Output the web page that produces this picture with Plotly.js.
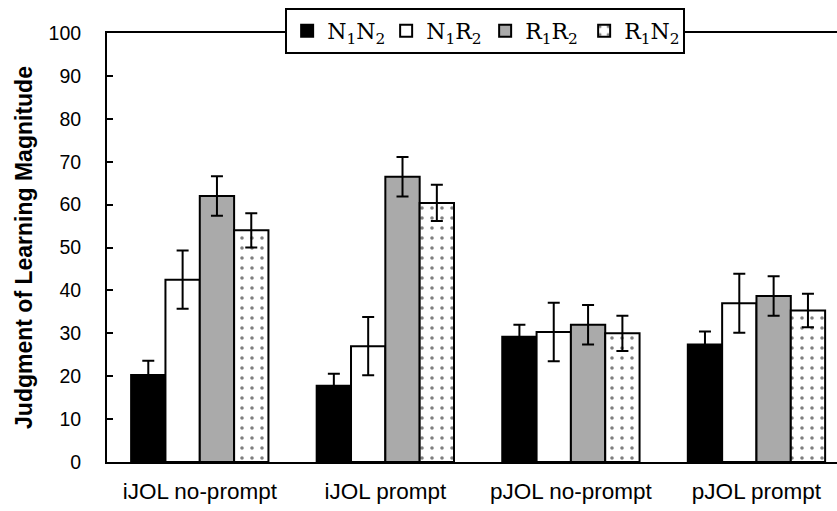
<!DOCTYPE html>
<html>
<head>
<meta charset="utf-8">
<script src="https://cdn.plot.ly/plotly-3.0.1.min.js"></script>
<style>html,body{margin:0;padding:0;background:#fff;}#chart{width:837px;height:511px;}</style>
</head>
<body>
<div id="chart"></div>
<script>
const categories = ["iJOL no-prompt", "iJOL prompt", "pJOL no-prompt", "pJOL prompt"];
const seriesNames = ["N<sub>1</sub>N<sub>2</sub>", "N<sub>1</sub>R<sub>2</sub>", "R<sub>1</sub>R<sub>2</sub>", "R<sub>1</sub>N<sub>2</sub>"];
const N1N2 = [20.3, 17.8, 29.2, 27.4];
const N1R2 = [42.5, 27.0, 30.3, 37.0];
const R1R2 = [62.0, 66.5, 32.0, 38.7];
const R1N2 = [54.0, 60.4, 30.0, 35.3];
const N1N2_err = [3.3, 2.8, 2.8, 3.0];
const N1R2_err = [6.8, 6.8, 6.8, 6.9];
const R1R2_err = [4.6, 4.6, 4.6, 4.6];
const R1N2_err = [4.0, 4.2, 4.1, 3.9];
const yTicks = [0, 10, 20, 30, 40, 50, 60, 70, 80, 90, 100];

const values = [N1N2, N1R2, R1R2, R1N2];
const errs = [N1N2_err, N1R2_err, R1R2_err, R1N2_err];
const fills = ["#000000", "#ffffff", "#aaaaaa", "#ffffff"];

const traces = values.map((v, i) => {
  const marker = {color: fills[i], line: {color: "#000", width: 2}};
  if (i === 3) {
    marker.pattern = {shape: ".", fgcolor: "#000", bgcolor: "#fff", size: 10, solidity: 0.1, fillmode: "overlay"};
  }
  return {
    type: "bar",
    name: seriesNames[i],
    x: categories,
    y: v,
    marker: marker,
    error_y: {type: "data", array: errs[i], visible: true, color: "#000", thickness: 2, width: 6},
    hoverinfo: "none"
  };
});

const layout = {
  width: 837, height: 511,
  margin: {l: 107, r: 0, t: 33, b: 49},
  paper_bgcolor: "#fff", plot_bgcolor: "#fff",
  barmode: "group", bargap: 0.26, bargroupgap: 0,
  showlegend: true,
  legend: {
    orientation: "h", x: 0.518, xanchor: "center", y: 1.005, yanchor: "middle",
    bgcolor: "#fff", bordercolor: "#000", borderwidth: 2,
    font: {family: "DejaVu Serif", size: 22, color: "#000"},
    entrywidth: 54, entrywidthmode: "pixels",
    itemwidth: 30,
    traceorder: "normal"
  },
  xaxis: {
    type: "category", range: [-0.5, 3.434],
    showline: true, linecolor: "#000", linewidth: 2, mirror: true,
    ticks: "", showgrid: false, zeroline: false,
    tickfont: {family: "Liberation Sans, Arial, sans-serif", size: 22.5, color: "#000"},
    ticklabelstandoff: 8
  },
  yaxis: {
    range: [0, 100], tickvals: yTicks, ticktext: yTicks.map(String),
    showline: true, linecolor: "#000", linewidth: 2,
    ticks: "inside", ticklen: 6, tickwidth: 2, tickcolor: "#000",
    showgrid: false, zeroline: false,
    tickfont: {family: "Liberation Sans, Arial, sans-serif", size: 19.5, color: "#000"},
    ticklabelstandoff: 20,
    title: {text: "Judgment of Learning Magnitude", font: {family: "Liberation Sans, Arial, sans-serif", size: 23, color: "#000", weight: "bold"}, standoff: 10}
  }
};

Plotly.newPlot("chart", traces, layout, {staticPlot: true, displayModeBar: false});
</script>
</body>
</html>
